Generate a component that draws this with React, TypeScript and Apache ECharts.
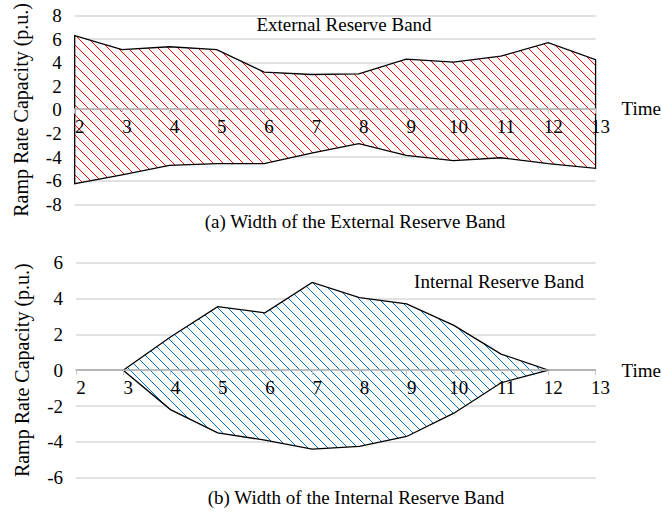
import React, { useEffect, useRef } from "react";
import * as echarts from "echarts";

// Time steps on the horizontal axis
const hours = [2, 3, 4, 5, 6, 7, 8, 9, 10, 11, 12, 13];

// (a) External reserve band: upper and lower ramp-rate limits (p.u.)
const externalUpper = [6.3, 5.1, 5.35, 5.1, 3.2, 3.0, 3.05, 4.3, 4.05, 4.55, 5.7, 4.25];
const externalLower = [-6.25, -5.5, -4.7, -4.55, -4.55, -3.65, -2.85, -3.85, -4.3, -4.05, -4.55, -4.95];

// (b) Internal reserve band: upper and lower ramp-rate limits (p.u.)
const internalUpper = [null, 0, 1.85, 3.55, 3.2, 4.9, 4.05, 3.7, 2.5, 0.9, 0, null];
const internalLower = [null, 0, -2.2, -3.5, -3.9, -4.4, -4.25, -3.7, -2.4, -0.7, 0, null];

const FONT = '"Liberation Serif", "Times New Roman", serif';
const FS = 19;

function hatch(color: string, step: number) {
  const c = document.createElement("canvas");
  c.width = step;
  c.height = step;
  const ctx = c.getContext("2d")!;
  ctx.fillStyle = "#ffffff";
  ctx.fillRect(0, 0, step, step);
  ctx.fillStyle = color;
  for (let i = 0; i < step; i++) ctx.fillRect(i, i, 1, 1);
  return { image: c, repeat: "repeat", imageWidth: step, imageHeight: step };
}

function bandSeries(
  upper: (number | null)[],
  lower: (number | null)[],
  idx: number,
  fill: any
) {
  return {
    type: "custom",
    xAxisIndex: idx,
    yAxisIndex: idx,
    z: 2,
    data: [[2, 0]],
    encode: { x: 0, y: 1 },
    renderItem: (_p: any, api: any) => {
      const pts: number[][] = [];
      hours.forEach((h, i) => {
        if (upper[i] != null) pts.push(api.coord([h, upper[i]]));
      });
      for (let i = hours.length - 1; i >= 0; i--) {
        if (lower[i] != null) pts.push(api.coord([hours[i], lower[i]]));
      }
      return {
        type: "polygon",
        shape: { points: pts },
        style: { fill, stroke: "#000000", lineWidth: 1.3 },
      };
    },
  };
}

// Horizontal axis drawn across the middle of its grid (the zero line)
function xAxisFor(idx: number, halfHeight: number) {
  return {
    type: "value",
    gridIndex: idx,
    position: "bottom",
    offset: -halfHeight,
    min: 2,
    max: 13,
    interval: 1,
    z: 5,
    axisLine: { onZero: false, lineStyle: { color: "#a6a6a6", width: 1.5 } },
    axisTick: { show: true, length: 5, lineStyle: { color: "#c8c8c8" } },
    splitLine: { show: false },
    axisLabel: { color: "#000", fontSize: FS, fontFamily: FONT, margin: 8, padding: [0, 0, 0, 10] },
    name: "Time",
    nameLocation: "end",
    nameGap: 26,
    nameTextStyle: { color: "#000", fontSize: FS, fontFamily: FONT, verticalAlign: "middle" },
  };
}

function yAxisFor(idx: number, lim: number) {
  return {
    type: "value",
    gridIndex: idx,
    min: -lim,
    max: lim,
    interval: 2,
    axisLine: { show: false },
    axisTick: { show: false },
    splitLine: { lineStyle: { color: "#d9d9d9", width: 1.5 } },
    axisLabel: { color: "#000", fontSize: FS, fontFamily: FONT, margin: 13 },
    name: "Ramp Rate Capacity (p.u.)",
    nameLocation: "middle",
    nameGap: 44,
    nameTextStyle: { color: "#000", fontSize: 20, fontFamily: FONT },
  };
}

function label(text: string, x: number, y: number) {
  return {
    type: "text",
    x,
    y,
    z: 10,
    style: {
      text,
      fill: "#000",
      font: `${FS}px ${FONT}`,
      align: "center",
      verticalAlign: "middle",
    },
  };
}

export default function App() {
  const ref = useRef<HTMLDivElement>(null);

  useEffect(() => {
    if (!ref.current) return;
    const chart = echarts.init(ref.current, undefined, { renderer: "svg" });
    const red = hatch("#ff0000", 10);
    const blue = hatch("#0070c0", 10);
    const topH = 191.4;
    const botH = 215;
    chart.setOption({
      animation: false,
      backgroundColor: "#ffffff",
      grid: [
        { left: 74.7, right: 66, top: 13, height: topH },
        { left: 76, right: 62.7, top: 262.7, height: botH },
      ],
      xAxis: [xAxisFor(0, topH / 2), xAxisFor(1, botH / 2)],
      yAxis: [yAxisFor(0, 8), yAxisFor(1, 6)],
      series: [
        bandSeries(externalUpper, externalLower, 0, red),
        bandSeries(internalUpper, internalLower, 1, blue),
      ],
      graphic: [
        label("External Reserve Band", 344, 24),
        label("(a) Width of the External Reserve Band", 355, 221),
        label("Internal Reserve Band", 499, 281),
        label("(b) Width of the Internal Reserve Band", 356, 497),
      ],
    });
    return () => chart.dispose();
  }, []);

  return (
    <div
      ref={ref}
      style={{ position: "absolute", left: 0, top: 0, width: 662, height: 512 }}
    />
  );
}
